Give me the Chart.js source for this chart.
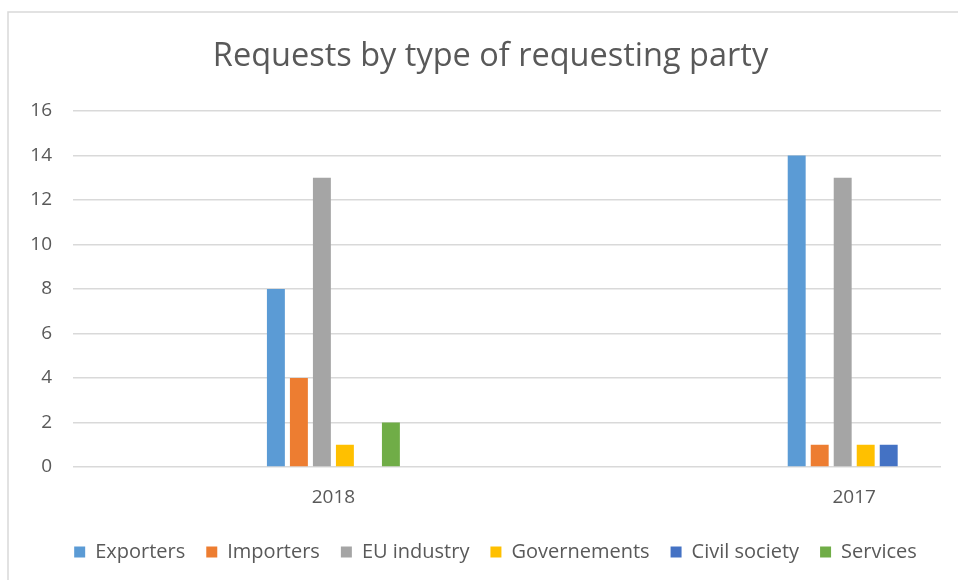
<!DOCTYPE html>
<html>
<head>
<meta charset="utf-8">
<script src="https://cdn.jsdelivr.net/npm/chart.js@4.4.1/dist/chart.umd.min.js"></script>
<style>
  html, body { margin: 0; padding: 0; background: #fff; }
  #wrap { position: relative; width: 958px; height: 580px; }
</style>
</head>
<body>
<div id="wrap"><canvas id="c" width="958" height="580"></canvas></div>
<script>
// ---- data ----
const categories = ['2018', '2017'];
const seriesNames = ['Exporters', 'Importers', 'EU industry', 'Governements', 'Civil society', 'Services'];
const exporters    = [8, 14];
const importers    = [4, 1];
const euIndustry   = [13, 13];
const governements = [1, 1];
const civilSociety = [0, 1];
const services     = [2, 0];
const yTicks = [0, 2, 4, 6, 8, 10, 12, 14, 16];

// ---- axis layout: the reference axis has 5 slots, categories sit in slots 1 and 4 ----
const AXIS_SLOTS = 5;
const CATEGORY_SLOT = [1, 4];
const axisLabels = Array(AXIS_SLOTS).fill('');
CATEGORY_SLOT.forEach((s, i) => axisLabels[s] = categories[i]);
function toSlots(values) {
  const out = Array(AXIS_SLOTS).fill(null);
  CATEGORY_SLOT.forEach((s, i) => out[s] = values[i]);
  return out;
}

const colors = ['#5B9BD5', '#ED7D31', '#A5A5A5', '#FFC000', '#4472C4', '#70AD47'];
const allSeries = [exporters, importers, euIndustry, governements, civilSociety, services];

const FONT = "'Open Sans', 'Noto Sans', sans-serif";
const TEXT = '#595959';

const frame = {
  id: 'frame',
  beforeDraw(chart) {
    const ctx = chart.ctx;
    ctx.save();
    ctx.fillStyle = '#fff';
    ctx.fillRect(0, 0, chart.width, chart.height);
    ctx.strokeStyle = '#D9D9D9';
    ctx.lineWidth = 1.5;
    ctx.beginPath();
    ctx.moveTo(8, chart.height);
    ctx.lineTo(8, 12);
    ctx.lineTo(chart.width, 12);
    ctx.stroke();
    ctx.restore();
  }
};

// shift title and legend boxes horizontally to match the reference centring
const shiftBoxes = {
  id: 'shiftBoxes',
  afterLayout(chart) {
    if (chart.titleBlock) { chart.titleBlock.left += 20; chart.titleBlock.right += 20; }
    if (chart.legend) { chart.legend.left += 25; chart.legend.right += 25; }
  }
};

new Chart(document.getElementById('c'), {
  type: 'bar',
  data: {
    labels: axisLabels,
    datasets: allSeries.map((vals, i) => ({
      label: seriesNames[i],
      data: toSlots(vals),
      backgroundColor: colors[i],
      borderWidth: 0,
      categoryPercentage: 0.795,
      barPercentage: 0.78
    }))
  },
  options: {
    responsive: false,
    animation: false,
    events: [],
    layout: { padding: { left: 0, right: 17, top: 0, bottom: 8 } },
    plugins: {
      title: {
        display: true,
        text: 'Requests by type of requesting party',
        color: TEXT,
        font: { family: FONT, size: 32.5, weight: 'normal' },
        padding: { top: 37, bottom: 35 }
      },
      legend: {
        position: 'bottom',
        labels: {
          color: TEXT,
          font: { family: FONT, size: 20 },
          boxWidth: 11,
          boxHeight: 11,
          padding: 21
        }
      },
      tooltip: { enabled: false }
    },
    scales: {
      x: {
        grid: { display: false, drawTicks: false },
        border: { display: false },
        ticks: { color: TEXT, font: { family: FONT, size: 19 }, padding: 19, maxRotation: 0, autoSkip: false },
        afterFit(s) { s.height = 54; }
      },
      y: {
        min: 0, max: 16,
        afterBuildTicks(s) { s.ticks = yTicks.map(v => ({ value: v })); },
        grid: { color: '#D9D9D9', lineWidth: 1.5, drawTicks: false },
        border: { display: false },
        ticks: { color: TEXT, font: { family: FONT, size: 19 }, padding: 21 },
        afterFit(s) { s.width = 73; }
      }
    }
  },
  plugins: [frame, shiftBoxes]
});
</script>
</body>
</html>
